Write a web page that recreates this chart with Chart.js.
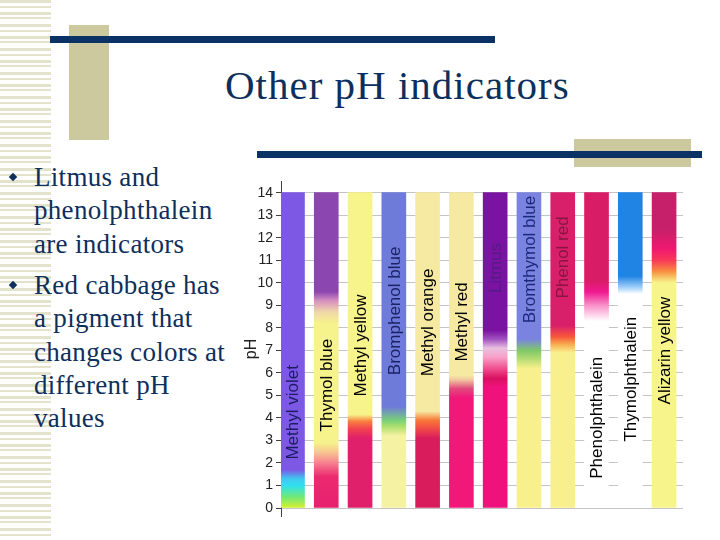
<!DOCTYPE html>
<html>
<head>
<meta charset="utf-8">
<script src="https://cdn.jsdelivr.net/npm/chart.js"></script>
<style>
  html, body { margin: 0; padding: 0; background: #fff; }
  #slide { position: relative; width: 720px; height: 540px; overflow: hidden; background: #fff; }
  .abs { position: absolute; }
  #stripes {
    left: 0; top: 0; width: 51px; height: 540px;
    background: repeating-linear-gradient(to bottom,
      #e3e2cb 0px, #e3e2cb 3px, #fff 3px, #fff 6px,
      #e3e2cb 6px, #e3e2cb 8px, #fff 8px, #fff 12px,
      #e3e2cb 12px, #e3e2cb 15px, #fff 15px, #fff 17px,
      #e3e2cb 17px, #e3e2cb 19px, #fff 19px, #fff 24px);
  }
  .khaki { background: #cbc99d; }
  .navy { background: #0b3265; }
  #title {
    left: 225px; top: 65px; font: 41px "Liberation Serif", "Times New Roman", serif;
    line-height: 41px; letter-spacing: 1px; color: #0d2f5c; white-space: nowrap;
  }
  .bullet {
    left: 34px; font: 27px "Liberation Serif", "Times New Roman", serif;
    line-height: 33.3px; letter-spacing: 0.3px; color: #0d2f5c; white-space: nowrap;
  }
  .dot { width: 6px; height: 6px; background: #0d2f5c; transform: rotate(45deg); }
  #chartBox { left: 240px; top: 170px; width: 450px; height: 358px; }
</style>
</head>
<body>
<div id="slide">
  <div id="stripes" class="abs"></div>
  <div class="abs khaki" style="left:69px; top:25px; width:40px; height:115px;"></div>
  <div class="abs navy" style="left:50px; top:36px; width:445px; height:7px;"></div>
  <div id="title" class="abs">Other pH indicators</div>
  <div class="abs khaki" style="left:574px; top:139px; width:117px; height:28px;"></div>
  <div class="abs navy" style="left:257px; top:151px; width:445px; height:7px;"></div>

  <div class="abs dot" style="left:10px; top:174px;"></div>
  <div class="abs bullet" style="top:161px;">Litmus and<br>phenolphthalein<br>are indicators</div>
  <div class="abs dot" style="left:10px; top:282px;"></div>
  <div class="abs bullet" style="top:269px;">Red cabbage has<br>a pigment that<br>changes colors at<br>different pH<br>values</div>

  <div id="chartBox" class="abs"><canvas id="phChart" width="450" height="358"></canvas></div>
</div>

<script>
  // indicators along the x axis
  const indicators = ['Methyl violet', 'Thymol blue', 'Methyl yellow', 'Bromphenol blue',
    'Methyl orange', 'Methyl red', 'Litmus', 'Bromthymol blue', 'Phenol red',
    'Phenolphthalein', 'Thymolphthalein', 'Alizarin yellow'];

  // every bar covers the whole pH scale
  const barLow = [0, 0, 0, 0, 0, 0, 0, 0, 0, 0, 0, 0];
  const barHigh = [14, 14, 14, 14, 14, 14, 14, 14, 14, 14, 14, 14];

  const phTicks = [0, 1, 2, 3, 4, 5, 6, 7, 8, 9, 10, 11, 12, 13, 14];

  // colour at a given pH, [pH, colour] pairs
  const colourStops = [
    [[0, '#d8f030'], [0.5, '#70e878'], [1.0, '#30e0f0'], [1.3, '#40c8f0'], [1.7, '#7c58e4'], [14, '#7c58e4']],
    [[0, '#e8206e'], [1.4, '#ec2a70'], [2.0, '#f78090'], [2.5, '#f8c890'], [2.9, '#f6f28c'], [8.2, '#f6f28c'], [8.7, '#f0d8a8'], [9.2, '#d890c0'], [9.6, '#8c46b0'], [14, '#8c46b0']],
    [[0, '#e0206a'], [3.1, '#e0206a'], [3.5, '#f04050'], [3.85, '#f88040'], [4.15, '#f8f48c'], [14, '#f8f48c']],
    [[0, '#f6f2a4'], [3.2, '#f6f2a4'], [3.6, '#b0e070'], [3.9, '#78d078'], [4.5, '#6e7bd8'], [14, '#6e7bd8']],
    [[0, '#d81c5c'], [3.1, '#d81c5c'], [3.5, '#f04848'], [3.9, '#f87838'], [4.3, '#f6eaa2'], [14, '#f6eaa2']],
    [[0, '#f2187a'], [4.9, '#f2187a'], [5.3, '#e04a7c'], [5.7, '#f0c8a0'], [5.9, '#f6eaa2'], [14, '#f6eaa2']],
    [[0, '#f0127c'], [5.4, '#f0127c'], [5.75, '#d81060'], [6.2, '#f05090'], [6.7, '#f8a0c8'], [7.1, '#e8c0e0'], [7.5, '#a050c0'], [7.9, '#7a12a2'], [14, '#7a12a2']],
    [[0, '#f8f08c'], [6.2, '#f8f08c'], [6.7, '#a8d870'], [7.0, '#80c868'], [7.5, '#7a84e0'], [14, '#7a84e0']],
    [[0, '#f8f08c'], [6.9, '#f8f08c'], [7.25, '#f8b050'], [7.6, '#f85838'], [8.1, '#d8206a'], [14, '#d8206a']],
    [[0, '#ffffff'], [8.3, '#ffffff'], [9.0, '#f890c8'], [9.6, '#f01890'], [10.1, '#d81c66'], [14, '#d81c66']],
    [[0, '#ffffff'], [9.5, '#ffffff'], [9.8, '#a0d0f8'], [10.3, '#2084e4'], [14, '#2084e4']],
    [[0, '#f8f48c'], [10.0, '#f8f48c'], [10.5, '#f89040'], [11.0, '#f83858'], [11.5, '#f01870'], [12.4, '#c6206a'], [14, '#c6206a']]
  ];

  // where each name starts (pH) and its colour
  const labelStart = [2.15, 3.4, 4.95, 5.9, 5.85, 6.5, 9.55, 8.2, 9.3, 1.3, 2.95, 4.6];
  const labelColour = ['#1c1c62', '#000', '#000', '#1c2266', '#000', '#000',
    '#561a86', '#1a2a7a', '#8a1442', '#000', '#000', '#000'];

  function barGradient(ctx) {
    const chart = ctx.chart;
    const y = chart.scales.y;
    if (!chart.chartArea || !y || ctx.type !== 'data') return '#ccc';
    const i = ctx.dataIndex;
    const lo = barLow[i], hi = barHigh[i];
    const y0 = y.getPixelForValue(lo), y1 = y.getPixelForValue(hi);
    if (!isFinite(y0) || !isFinite(y1)) return '#ccc';
    const g = chart.ctx.createLinearGradient(0, y0, 0, y1);
    colourStops[i].forEach(([ph, c]) => g.addColorStop((ph - lo) / (hi - lo), c));
    return g;
  }

  const barNames = {
    id: 'barNames',
    afterDatasetsDraw(chart) {
      const c = chart.ctx;
      const y = chart.scales.y;
      chart.getDatasetMeta(0).data.forEach((bar, i) => {
        c.save();
        c.translate(bar.x, y.getPixelForValue(labelStart[i]));
        c.rotate(-Math.PI / 2);
        c.font = '17px "Liberation Sans", Arial, sans-serif';
        c.fillStyle = labelColour[i];
        c.textAlign = 'left';
        c.textBaseline = 'middle';
        c.fillText(indicators[i], 0, 1);
        c.restore();
      });
    }
  };

  new Chart(document.getElementById('phChart'), {
    type: 'bar',
    data: {
      datasets: [{
        data: indicators.map((n, i) => ({ x: i, y: [barLow[i], barHigh[i]] })),
        backgroundColor: barGradient,
        borderWidth: 0,
        barThickness: 24
      }]
    },
    options: {
      responsive: false,
      animation: false,
      layout: { autoPadding: false, padding: { top: 10, bottom: 5, right: 7, left: 0 } },
      plugins: { legend: { display: false }, tooltip: { enabled: false } },
      scales: {
        x: { type: 'linear', offset: false, min: -0.34, max: 11.56, display: false },
        y: {
          min: -0.38,
          max: 14.5,
          afterBuildTicks: s => { s.ticks = phTicks.map(v => ({ value: v })); },
          afterFit: s => { s.width = 41; },
          ticks: {
            color: '#222',
            padding: 3,
            font: { family: '"Liberation Sans", Arial, sans-serif', size: 14 }
          },
          grid: { color: '#c4c4c4', tickLength: 5, tickColor: '#404040' },
          border: { color: '#404040' },
          title: {
            display: true,
            text: 'pH',
            color: '#222',
            padding: { top: 2, bottom: 0 },
            font: { family: '"Liberation Sans", Arial, sans-serif', size: 16 }
          }
        }
      }
    },
    plugins: [barNames]
  });
</script>
</body>
</html>
